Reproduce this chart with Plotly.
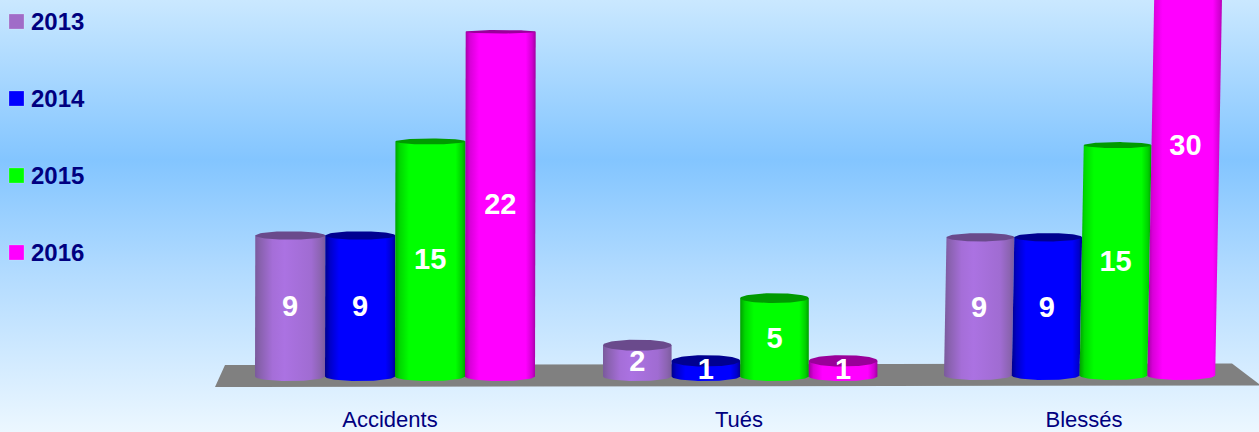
import numpy as np
import plotly.graph_objects as go

categories = ["Accidents", "Tués", "Blessés"]
years = ["2013", "2014", "2015", "2016"]
values_2013 = [9, 2, 9]
values_2014 = [9, 1, 9]
values_2015 = [15, 5, 15]
values_2016 = [22, 1, 30]

series = [values_2013, values_2014, values_2015, values_2016]

# ---- layout / projection constants (not data) ----
W, H = 1259, 432
BASE_PX = 376.5          # pixel row of value 0
PX_PER_UNIT = 15.67
PLOT_BOTTOM = 404        # pixel row where the x axis sits
LABEL_DROP = 3 / PX_PER_UNIT
group_left = [255, 603, 944]
group_bar_w = [70, 68.6, 67.8]
group_lean = [0.002, 0.0, 0.018]     # sideways drift per pixel of height
group_depth = [1.0, 1.0, 0.98]       # perspective shrink of heights
group_lift = [0.0, 0.0, 1 / PX_PER_UNIT]  # perspective lift of the base
label_x = [390, 739, 1084]

body_scales = [
    [[0, "#7a5a9c"], [0.08, "#8a62b0"], [0.25, "#a56ed8"], [0.42, "#ab72e2"], [0.8, "#a06cd2"], [0.93, "#8c64b2"], [1, "#7c5c9e"]],
    [[0, "#00008c"], [0.07, "#0000c8"], [0.2, "#0000ff"], [0.86, "#0000ff"], [0.95, "#0000cc"], [1, "#000090"]],
    [[0, "#00a000"], [0.07, "#00d800"], [0.2, "#00ff00"], [0.86, "#00ff00"], [0.95, "#00d000"], [1, "#00a000"]],
    [[0, "#a000a0"], [0.07, "#d800d8"], [0.2, "#ff00ff"], [0.86, "#ff00ff"], [0.95, "#d000d0"], [1, "#a000a0"]],
]
top_colors = ["#6a4a8c", "#000090", "#009a00", "#9a009a"]
legend_colors = ["#a06cc8", "#0000ff", "#00ff00", "#ff00ff"]
legend_rows = [21.5, 98.5, 175.5, 252.5]
# stop 1 is the top of the page, stop 0 the bottom
bg_scale = [
    [0, "rgb(236,247,255)"],
    [0.38, "rgb(176,218,255)"],
    [0.63, "rgb(131,197,255)"],
    [1, "rgb(202,232,255)"],
]


def px_to_val(py):
    return (BASE_PX - py) / PX_PER_UNIT


fig = go.Figure()

# background (full-page axes in pixel units)
fig.add_trace(go.Scatter(
    x=[0, W, W, 0, 0], y=[0, 0, H, H, 0], xaxis="x", yaxis="y",
    mode="lines", line=dict(width=0), fill="toself",
    fillgradient=dict(type="vertical", colorscale=bg_scale),
    hoverinfo="skip", showlegend=False,
))

# legend keys
for name, colour, row in zip(years, legend_colors, legend_rows):
    fig.add_trace(go.Scatter(
        x=[16.5], y=[row], xaxis="x", yaxis="y", mode="markers", name=name,
        marker=dict(symbol="square", size=15, color=colour, line=dict(width=0.5, color="rgba(255,255,255,0.4)")),
        hoverinfo="skip", showlegend=False,
    ))

# floor
floor_x = [225, 1232, 1259, 1259, 215, 225]
floor_y = [px_to_val(p) for p in [365, 363.5, 384, 385.5, 387, 365]]
fig.add_trace(go.Scatter(
    x=floor_x, y=floor_y, xaxis="x2", yaxis="y2", mode="lines",
    line=dict(width=0), fill="toself", fillcolor="#808080",
    hoverinfo="skip", showlegend=False,
))

theta_front = np.linspace(0, np.pi, 41)
theta_full = np.linspace(0, 2 * np.pi, 81)
label_xs, label_ys, label_txt = [], [], []

for g in range(len(categories)):
    bw = group_bar_w[g]
    lift = group_lift[g]
    for s, vals in enumerate(series):
        v = vals[g]
        h_px = v * PX_PER_UNIT * group_depth[g]
        v_draw = v * group_depth[g] + lift
        cx0 = group_left[g] + bw * (s + 0.5)
        cx1 = cx0 + group_lean[g] * h_px
        rx = bw / 2
        ry_base = 4.5 / PX_PER_UNIT
        ry_top = max(1.5, 5.9 - 0.19 * v) / PX_PER_UNIT
        # body: front of the base ellipse, then up the right side, back down the left
        bx = cx0 - rx * np.cos(theta_front)
        by = lift - ry_base * np.sin(theta_front)
        xs = np.concatenate([bx, [cx1 + rx, cx1 - rx, cx0 - rx]])
        ys = np.concatenate([by, [v_draw, v_draw, lift]])
        fig.add_trace(go.Scatter(
            x=xs, y=ys, xaxis="x2", yaxis="y2", mode="lines", line=dict(width=0),
            fill="toself", fillgradient=dict(type="horizontal", colorscale=body_scales[s]),
            hoverinfo="skip", showlegend=False, name=years[s],
        ))
        # lid
        fig.add_trace(go.Scatter(
            x=cx1 + rx * np.cos(theta_full), y=v_draw + ry_top * np.sin(theta_full),
            xaxis="x2", yaxis="y2", mode="lines", line=dict(width=0),
            fill="toself", fillcolor=top_colors[s],
            hoverinfo="skip", showlegend=False, name=years[s],
        ))
        label_xs.append((cx0 + cx1) / 2)
        label_ys.append((v_draw + lift) / 2 - LABEL_DROP)
        label_txt.append(str(v))

fig.add_trace(go.Scatter(
    x=label_xs, y=label_ys, text=label_txt, xaxis="x2", yaxis="y2", mode="text",
    textposition="middle center",
    textfont=dict(family="Liberation Sans", size=29, color="white", weight="bold"),
    hoverinfo="skip", showlegend=False, cliponaxis=False,
))

annotations = [
    dict(x=31, y=row, xref="x", yref="y", text=f"<b>{name}</b>", showarrow=False,
         xanchor="left", yanchor="middle", xshift=-2,
         font=dict(family="Liberation Sans", size=24, color="#000080"))
    for name, row in zip(years, legend_rows)
]

fig.update_layout(
    width=W, height=H, margin=dict(l=0, r=0, t=0, b=0),
    paper_bgcolor="#d8eeff", plot_bgcolor="rgba(0,0,0,0)",
    showlegend=False, hovermode=False, annotations=annotations,
    xaxis=dict(domain=[0, 1], range=[0, W], visible=False, fixedrange=True),
    yaxis=dict(domain=[0, 1], range=[H, 0], visible=False, fixedrange=True),
    xaxis2=dict(domain=[0, 1], range=[0, W], anchor="y2", tickmode="array",
                tickvals=label_x, ticktext=categories, ticks="", showgrid=False,
                zeroline=False, showline=False, fixedrange=True,
                tickfont=dict(family="Liberation Sans", size=22, color="#000080")),
    yaxis2=dict(domain=[1 - PLOT_BOTTOM / H, 1], anchor="x2",
                range=[px_to_val(PLOT_BOTTOM), px_to_val(0)], visible=False,
                fixedrange=True),
)

fig.write_html("out.html", config=dict(displayModeBar=False),
               post_script="document.body.style.margin='0';")
